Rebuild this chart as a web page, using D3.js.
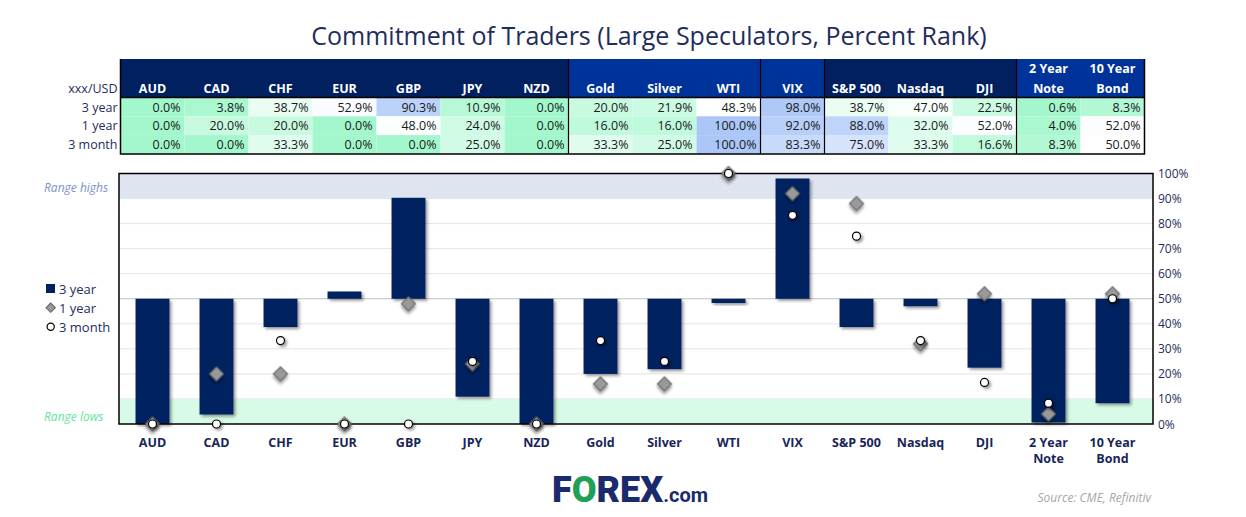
<!DOCTYPE html>
<html><head><meta charset="utf-8">
<script src="https://cdn.jsdelivr.net/npm/d3@7"></script>
<style>
body{margin:0;background:#fff}
svg{display:block;font-family:"Open Sans","Noto Sans",sans-serif}
</style>
</head><body>
<svg id="c" width="1246" height="517"></svg>
<script>
// ---------------- DATA ----------------
const categories = ["AUD","CAD","CHF","EUR","GBP","JPY","NZD","Gold","Silver","WTI","VIX","S&P 500","Nasdaq","DJI","2 Year Note","10 Year Bond"];
const categoryLines = [["AUD"],["CAD"],["CHF"],["EUR"],["GBP"],["JPY"],["NZD"],["Gold"],["Silver"],["WTI"],["VIX"],["S&P 500"],["Nasdaq"],["DJI"],["2 Year","Note"],["10 Year","Bond"]];
const rowLabels = ["3 year","1 year","3 month"];
const threeYear  = [0.0, 3.8, 38.7, 52.9, 90.3, 10.9, 0.0, 20.0, 21.9, 48.3, 98.0, 38.7, 47.0, 22.5, 0.6, 8.3];
const oneYear    = [0.0, 20.0, 20.0, 0.0, 48.0, 24.0, 0.0, 16.0, 16.0, 100.0, 92.0, 88.0, 32.0, 52.0, 4.0, 52.0];
const threeMonth = [0.0, 0.0, 33.3, 0.0, 0.0, 25.0, 0.0, 33.3, 25.0, 100.0, 83.3, 75.0, 33.3, 16.6, 8.3, 50.0];
const yTicks = [0,10,20,30,40,50,60,70,80,90,100];
const headerGroups = [["AUD","NZD"],["Gold","WTI"],["VIX","VIX"],["S&P 500","DJI"],["2 Year Note","10 Year Bond"]];
const baseline = 50;
const rangeHigh = [90,100];
const rangeLow = [0,10];
const title = "Commitment of Traders (Large Speculators, Percent Rank)";
const source = "Source: CME, Refinitiv";

// ---------------- STYLE ----------------
const navy = "#002060", navyText = "#1f2d5c";
const groupColors = ["#002060","#003399","#003399","#002060","#003399"];
const svg = d3.select("#c");
const defs = svg.append("defs");
const f = defs.append("filter").attr("id","sh").attr("x","-50%").attr("y","-50%").attr("width","200%").attr("height","200%");
f.append("feDropShadow").attr("dx",2).attr("dy",2).attr("stdDeviation",1.6).attr("flood-color","#000").attr("flood-opacity",0.4);

const x = d3.scaleBand().domain(categories).range([120.5,1144.5]).padding(0);
const y = d3.scaleLinear().domain([0,100]).range([424,173.5]);
const plotL = 119, plotR = 1153;
const series = [threeYear, oneYear, threeMonth];

// ---------------- TITLE ----------------
svg.append("text").attr("x",649).attr("y",45).attr("text-anchor","middle")
  .attr("font-size",25).attr("fill",navyText).text(title);

// ---------------- TABLE ----------------
const tTop = 59, tHead = 97.5, rowH = 18.8;
const tLeft = x.range()[0], tRight = x.range()[1];
const cellColor = d3.scaleLinear().domain([0,50,100]).range(["#a3f7cc","#ffffff","#abc7f8"]);

headerGroups.forEach((g,i)=>{
  const x0 = x(g[0]), x1 = x(g[1]) + x.bandwidth();
  svg.append("rect").attr("x",x0).attr("y",tTop).attr("width",x1-x0).attr("height",tHead-tTop).attr("fill",groupColors[i]);
});
categoryLines.forEach((lines,i)=>{
  const cx = x(categories[i]) + x.bandwidth()/2;
  const t = svg.append("text").attr("text-anchor","middle").attr("font-size",12.5).attr("font-weight","bold").attr("fill","#fff");
  lines.forEach((ln,j)=>{
    t.append("tspan").attr("x",cx).attr("y",92.5 - (lines.length-1-j)*19.5).text(ln);
  });
});
svg.append("text").attr("x",117.5).attr("y",93).attr("text-anchor","end").attr("font-size",12.5).attr("fill",navyText).text("xxx/USD");

series.forEach((vals,r)=>{
  const ry = tHead + r*rowH;
  svg.append("text").attr("x",117.5).attr("y",ry+14).attr("text-anchor","end").attr("font-size",12.5).attr("fill",navyText).text(rowLabels[r]);
  vals.forEach((v,i)=>{
    const cx = x(categories[i]);
    svg.append("rect").attr("x",cx).attr("y",ry).attr("width",x.bandwidth()).attr("height",rowH).attr("fill",cellColor(v));
    svg.append("text").attr("x",cx+x.bandwidth()-4).attr("y",ry+14).attr("text-anchor","end")
      .attr("font-size",12.5).attr("fill","#1a1a1a").text(v.toFixed(1)+"%");
  });
});
const tBottom = tHead + 3*rowH;
headerGroups.slice(1).forEach(g=>{
  const xx = x(g[0]);
  svg.append("line").attr("x1",xx).attr("x2",xx).attr("y1",tTop).attr("y2",tBottom).attr("stroke","#000").attr("stroke-width",1.2);
});
svg.append("line").attr("x1",tLeft).attr("x2",tRight).attr("y1",tHead).attr("y2",tHead).attr("stroke","#000").attr("stroke-width",1.5);
svg.append("path").attr("d",`M${tLeft},${tTop}V${tBottom}H${tRight}V${tTop}`).attr("fill","none").attr("stroke","#000").attr("stroke-width",1.5);

// ---------------- CHART ----------------
const g = svg.append("g");
g.selectAll(".grid").data(yTicks.filter(t=>t>0&&t<100)).enter().append("line")
  .attr("x1",plotL).attr("x2",plotR).attr("y1",d=>y(d)).attr("y2",d=>y(d))
  .attr("stroke",d=>d===baseline?"#bfbfbf":"#e4e4e4").attr("stroke-width",1);
g.append("rect").attr("x",plotL).attr("width",plotR-plotL).attr("y",y(rangeHigh[1])).attr("height",y(rangeHigh[0])-y(rangeHigh[1])).attr("fill","#dfe5f0");
g.append("rect").attr("x",plotL).attr("width",plotR-plotL).attr("y",y(rangeLow[1])).attr("height",y(rangeLow[0])-y(rangeLow[1])).attr("fill","#d7fbe6");

const bw = x.bandwidth()*0.53;
g.selectAll(".bar").data(threeYear).enter().append("rect")
  .attr("x",(d,i)=>x(categories[i])+x.bandwidth()/2-bw/2)
  .attr("width",bw)
  .attr("y",d=>Math.min(y(d),y(baseline)))
  .attr("height",d=>Math.max(1.5,Math.abs(y(d)-y(baseline))))
  .attr("fill",navy).attr("filter","url(#sh)");

svg.append("rect").attr("x",plotL).attr("y",y(100)).attr("width",plotR-plotL).attr("height",y(0)-y(100))
  .attr("fill","none").attr("stroke","#000").attr("stroke-width",1.5);

const ds = 10;
svg.selectAll(".dia").data(oneYear).enter().append("rect")
  .attr("x",-ds/2).attr("y",-ds/2).attr("width",ds).attr("height",ds)
  .attr("transform",(d,i)=>`translate(${x(categories[i])+x.bandwidth()/2},${y(d)}) rotate(45)`)
  .attr("fill","#999").attr("stroke","#5f5f5f").attr("stroke-width",1).attr("filter","url(#sh)");
svg.selectAll(".cir").data(threeMonth).enter().append("circle")
  .attr("cx",(d,i)=>x(categories[i])+x.bandwidth()/2).attr("cy",d=>y(d)).attr("r",4)
  .attr("fill","#fff").attr("stroke","#000").attr("stroke-width",1.2).attr("filter","url(#sh)");

svg.selectAll(".yt").data(yTicks).enter().append("text")
  .attr("x",1158).attr("y",d=>y(d)+4.5).attr("font-size",12).attr("fill",navyText).text(d=>d+"%");

categoryLines.forEach((lines,i)=>{
  const cx = x(categories[i]) + x.bandwidth()/2;
  const t = svg.append("text").attr("text-anchor","middle").attr("font-size",12.5).attr("font-weight","bold").attr("fill","#17255a");
  lines.forEach((ln,j)=>t.append("tspan").attr("x",cx).attr("y",446.5+j*16.5).text(ln));
});

svg.append("text").attr("x",44).attr("y",191.5).attr("font-size",12).attr("font-style","italic").attr("fill","#7d93c9").text("Range highs");
svg.append("text").attr("x",44).attr("y",420.5).attr("font-size",12).attr("font-style","italic").attr("fill","#5fe59b").text("Range lows");

const lg = svg.append("g");
lg.append("rect").attr("x",46).attr("y",284).attr("width",9).attr("height",9).attr("fill",navy);
lg.append("text").attr("x",59).attr("y",293.5).attr("font-size",13).attr("fill",navyText).text(rowLabels[0]);
lg.append("rect").attr("x",-3.3).attr("y",-3.3).attr("width",6.6).attr("height",6.6).attr("transform","translate(50.7,307.7) rotate(45)").attr("fill","#999").attr("stroke","#5f5f5f");
lg.append("text").attr("x",59).attr("y",312.5).attr("font-size",13).attr("fill",navyText).text(rowLabels[1]);
lg.append("circle").attr("cx",50.7).attr("cy",326.7).attr("r",3.6).attr("fill","#fff").attr("stroke","#000").attr("stroke-width",1.2);
lg.append("text").attr("x",59).attr("y",331.5).attr("font-size",13).attr("fill",navyText).text(rowLabels[2]);

const logo = svg.append("text").attr("x",552).attr("y",502).attr("font-family","Roboto, sans-serif").attr("font-weight",900).attr("fill","#1b2a6b");
logo.append("tspan").attr("font-size",36).text("F");
logo.append("tspan").attr("font-size",36).attr("fill","#1fa055").text("O");
logo.append("tspan").attr("font-size",36).text("REX");
logo.append("tspan").attr("font-size",20).attr("font-weight",700).text(".com");

svg.append("text").attr("x",1151).attr("y",502).attr("text-anchor","end").attr("font-size",12).attr("font-style","italic").attr("fill","#a6a6a6").text(source);
</script>
</body></html>
